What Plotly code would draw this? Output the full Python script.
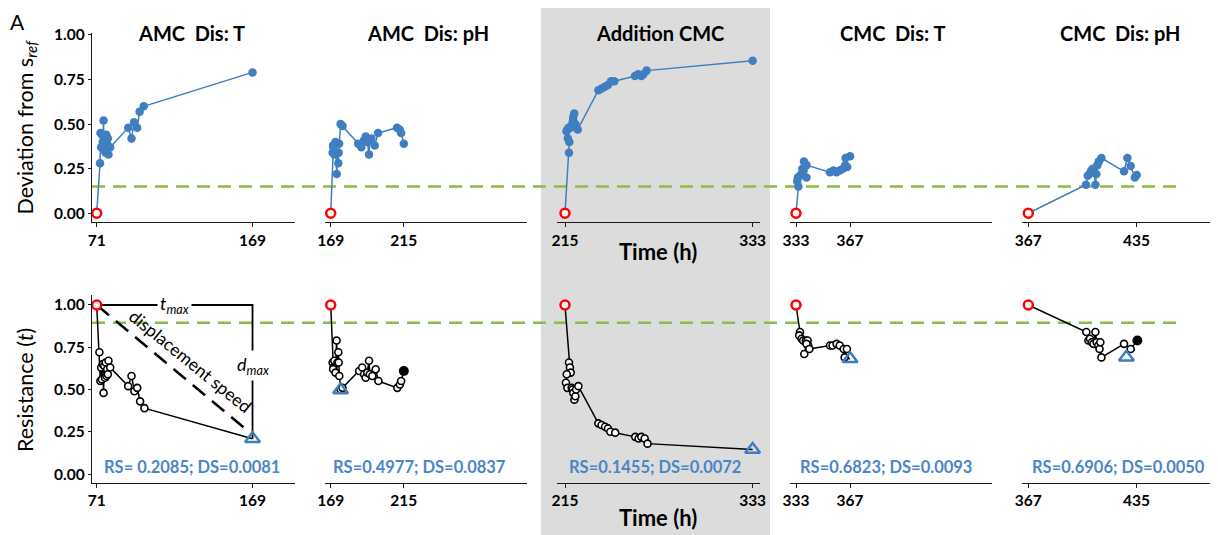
import plotly.graph_objects as go

W, H = 1218, 535

# ---------------- data ----------------
panel_titles = ["AMC&nbsp; Dis: T", "AMC&nbsp; Dis: pH", "Addition CMC", "CMC&nbsp; Dis: T", "CMC&nbsp; Dis: pH"]
x_ticks = [[71, 169], [169, 215], [215, 333], [333, 367], [367, 435]]

# Deviation from s_ref (top row)
dev_t1 = [71, 73.1, 73.4, 73.8, 74.3, 74.8, 75.3, 75.6, 76.0, 76.5, 77.0, 77.5, 78.0, 78.4, 79.5, 90.8, 92.9, 94.5, 96.5, 98.0, 100.6, 169]
dev_v1 = [0, 0.28, 0.45, 0.37, 0.44, 0.40, 0.52, 0.36, 0.43, 0.34, 0.44, 0.39, 0.42, 0.33, 0.37, 0.48, 0.42, 0.51, 0.48, 0.57, 0.60, 0.79]
dev_t2 = [169, 170.2, 170.7, 171.3, 170.5, 172.0, 172.8, 173.2, 173.8, 174.0, 174.3, 175.2, 176.4, 186.3, 188.3, 190.0, 191.0, 192.0, 193.1, 193.6, 194.6, 196.7, 198.8, 210.7, 212.3, 213.3, 215]
dev_v2 = [0, 0.34, 0.37, 0.33, 0.38, 0.40, 0.22, 0.34, 0.28, 0.34, 0.39, 0.50, 0.49, 0.39, 0.37, 0.41, 0.43, 0.40, 0.33, 0.41, 0.42, 0.38, 0.45, 0.48, 0.47, 0.45, 0.39]
dev_t3 = [215, 217.5, 217.7, 216.8, 216.0, 216.5, 217.2, 218.6, 219.5, 220.2, 220.8, 220.0, 221.5, 223.0, 236.0, 238.0, 240.0, 242.0, 244.0, 246.0, 259.0, 261.0, 263.0, 264.3, 266.3, 333]
dev_v3 = [0, 0.34, 0.40, 0.42, 0.46, 0.47, 0.48, 0.48, 0.50, 0.54, 0.56, 0.52, 0.50, 0.47, 0.69, 0.70, 0.71, 0.72, 0.74, 0.74, 0.77, 0.78, 0.77, 0.78, 0.80, 0.855]
dev_t4 = [333, 334.5, 333.8, 334.2, 335.5, 336.5, 337.0, 337.8, 339.6, 338.0, 339.6, 354.4, 356.5, 358.5, 360.5, 362.5, 364.0, 365.2, 364.2, 367]
dev_v4 = [0, 0.15, 0.18, 0.20, 0.21, 0.22, 0.25, 0.24, 0.20, 0.29, 0.27, 0.23, 0.24, 0.23, 0.24, 0.25, 0.27, 0.26, 0.31, 0.32]
dev_t5 = [367, 403.3, 404.4, 405.5, 406.5, 407.5, 408.5, 409.2, 409.8, 410.5, 411.3, 413.0, 427.2, 429.3, 431.4, 434.0, 435.2]
dev_v5 = [0, 0.16, 0.21, 0.22, 0.24, 0.25, 0.23, 0.16, 0.22, 0.27, 0.29, 0.31, 0.235, 0.31, 0.265, 0.20, 0.215]

# Resistance t (bottom row)
res_t1 = [71, 72.7, 73.3, 73.8, 74.3, 74.8, 75.3, 75.7, 76.2, 76.7, 77.2, 77.6, 78.0, 78.4, 79.5, 90.8, 92.9, 94.7, 96.5, 98.3, 101.0, 169]
res_v1 = [1.0, 0.72, 0.55, 0.63, 0.56, 0.65, 0.48, 0.64, 0.57, 0.66, 0.58, 0.62, 0.59, 0.67, 0.63, 0.52, 0.58, 0.49, 0.51, 0.43, 0.39, 0.2085]
res_t2 = [169, 170.2, 170.7, 171.3, 170.5, 172.0, 172.7, 173.2, 173.8, 174.0, 174.4, 175.2, 176.4, 186.9, 188.8, 190.0, 191.0, 192.0, 193.1, 193.6, 195.2, 197.3, 199.0, 210.9, 212.5, 213.3, 215]
res_v2 = [1.0, 0.66, 0.63, 0.67, 0.62, 0.60, 0.79, 0.66, 0.72, 0.66, 0.58, 0.50, 0.51, 0.61, 0.63, 0.59, 0.57, 0.60, 0.67, 0.59, 0.58, 0.62, 0.55, 0.51, 0.53, 0.55, 0.61]
res_t3 = [215, 217.5, 218.1, 218.6, 216.1, 215.6, 216.5, 219.2, 219.8, 220.2, 220.9, 221.5, 222.0, 223.4, 236.0, 238.0, 240.2, 242.0, 243.5, 246.6, 259.2, 261.3, 263.0, 265.1, 266.9, 333]
res_v3 = [1.0, 0.66, 0.63, 0.60, 0.59, 0.54, 0.51, 0.51, 0.50, 0.48, 0.44, 0.46, 0.50, 0.52, 0.30, 0.29, 0.28, 0.27, 0.25, 0.245, 0.22, 0.21, 0.22, 0.21, 0.18, 0.1455]
res_t4 = [333, 335.5, 335.0, 336.5, 337.5, 339.2, 340.3, 340.7, 339.6, 338.2, 341.4, 354.4, 356.0, 358.5, 360.5, 363.0, 365.0, 363.6, 367]
res_v4 = [1.0, 0.84, 0.82, 0.80, 0.79, 0.79, 0.79, 0.76, 0.77, 0.71, 0.74, 0.76, 0.76, 0.77, 0.76, 0.74, 0.74, 0.69, 0.6823]
res_t5 = [367, 403.5, 404.8, 405.8, 407.0, 408.0, 409.2, 410.0, 411.0, 411.8, 412.3, 413.0, 427.2, 431.4, 435.6]
res_v5 = [1.0, 0.84, 0.79, 0.80, 0.78, 0.77, 0.84, 0.78, 0.76, 0.74, 0.78, 0.69, 0.77, 0.74, 0.79]

rs_values = [0.2085, 0.4977, 0.1455, 0.6823, 0.6906]
ds_values = [0.0081, 0.0837, 0.0072, 0.0093, 0.0050]
rs_time = [169, 175.2, 333, 367, 428.7]
rs_labels = ["RS= 0.2085; DS=0.0081", "RS=0.4977; DS=0.0837", "RS=0.1455; DS=0.0072",
             "RS=0.6823; DS=0.0093", "RS=0.6906; DS=0.0050"]
dev_threshold = 0.15
res_threshold = 0.895
disp_end = (165.5, 0.26)

dev_t = [dev_t1, dev_t2, dev_t3, dev_t4, dev_t5]
dev_v = [dev_v1, dev_v2, dev_v3, dev_v4, dev_v5]
res_t = [res_t1, res_t2, res_t3, res_t4, res_t5]
res_v = [res_v1, res_v2, res_v3, res_v4, res_v5]

# ---------------- layout helpers ----------------
FONT = "Lato"
BLUE = "#3F7EC1"
TXT_BLUE = "#4A86C6"
GREEN = "#8DBB4A"
AX = "#1a1a1a"
k = 1.59  # px per hour
OFF = 8   # page offset of the figure inside the browser window

panel_px = [(92, 295), (325, 527), (557, 760), (790, 992), (1022, 1224)]
panel_center = [191, 428, 660, 893, 1120]
first_tick_px = [96.7, 330.7, 565, 796, 1028.3]
top_px = (33, 222)
bot_px = (295, 482.7)
top_range = [-0.049, 1.011]
bot_range = [-0.051, 1.059]


def px_x(p):
    return min(1.0, max(0.0, (p - OFF) / W))


def px_y(p):
    return min(1.0, max(0.0, 1 - (p - OFF) / H))


fig = go.Figure()
layout = dict(template="none", width=W, height=H, margin=dict(l=0, r=0, t=0, b=0),
              paper_bgcolor="white", plot_bgcolor="rgba(0,0,0,0)",
              showlegend=False, font=dict(family=FONT, color="black"))

shapes = []
annotations = []

# gray highlight of the "Addition CMC" column
shapes.append(dict(type="rect", xref="paper", yref="paper", x0=px_x(541), x1=px_x(770),
                   y0=0, y1=px_y(6), fillcolor="#DCDCDC", line=dict(width=0), layer="below"))


def val_to_paper(v, rng, dom_px):
    d0, d1 = px_y(dom_px[1]), px_y(dom_px[0])
    return d0 + (v - rng[0]) / (rng[1] - rng[0]) * (d1 - d0)


for v, rng, dom in [(dev_threshold, top_range, top_px), (res_threshold, bot_range, bot_px)]:
    yp = val_to_paper(v, rng, dom)
    shapes.append(dict(type="line", xref="paper", yref="paper", x0=px_x(92), x1=px_x(1183),
                       y0=yp, y1=yp, line=dict(color=GREEN, width=2.5, dash="13px,8px"), layer="below"))

for i in range(5):
    x0p, x1p = panel_px[i]
    dx0, dx1 = px_x(x0p), px_x(x1p)
    t0 = x_ticks[i][0] - (first_tick_px[i] - x0p) / k
    t1 = x_ticks[i][0] + (OFF + dx1 * W - first_tick_px[i]) / k
    for row in range(2):
        n = i + 1 + 5 * row
        xa = "xaxis" if n == 1 else f"xaxis{n}"
        ya = "yaxis" if n == 1 else f"yaxis{n}"
        xr = "x" if n == 1 else f"x{n}"
        yr = "y" if n == 1 else f"y{n}"
        dom_px = top_px if row == 0 else bot_px
        rng = top_range if row == 0 else bot_range
        layout[xa] = dict(domain=[dx0, dx1], range=[t0, t1], anchor=yr, automargin=False,
                          showline=True, linecolor=AX, linewidth=1.3, showgrid=False, zeroline=False,
                          ticks="outside", ticklen=4, tickwidth=1.3, tickcolor=AX,
                          tickvals=x_ticks[i], ticktext=[str(v) for v in x_ticks[i]],
                          tickfont=dict(family=FONT, size=15.5, color="black", weight="bold"))
        if i == 0:
            layout[ya] = dict(domain=[px_y(dom_px[1]), px_y(dom_px[0])], range=rng, anchor=xr,
                              automargin=False,
                              showline=True, linecolor=AX, linewidth=1.3, showgrid=False, zeroline=False,
                              ticks="outside", ticklen=3, tickwidth=1.3, tickcolor=AX,
                              tickvals=[0, 0.25, 0.5, 0.75, 1.0],
                              ticktext=["0.00", "0.25", "0.50", "0.75", "1.00"],
                              tickfont=dict(family=FONT, size=15.5, color="black", weight="bold"))
        else:
            layout[ya] = dict(domain=[px_y(dom_px[1]), px_y(dom_px[0])], range=rng, anchor=xr,
                              visible=False)

        if row == 0:
            tt, vv = dev_t[i], dev_v[i]
            fig.add_trace(go.Scatter(x=tt, y=vv, xaxis=xr, yaxis=yr, mode="lines",
                                     line=dict(color=BLUE, width=1.5), cliponaxis=False))
            fig.add_trace(go.Scatter(x=tt[1:], y=vv[1:], xaxis=xr, yaxis=yr, mode="markers",
                                     marker=dict(color=BLUE, size=8.5, line=dict(width=0)), cliponaxis=False))
            fig.add_trace(go.Scatter(x=tt[:1], y=vv[:1], xaxis=xr, yaxis=yr, mode="markers",
                                     marker=dict(color="white", size=9, line=dict(color="#FF0000", width=2.5)),
                                     cliponaxis=False))
        else:
            tt, vv = res_t[i], res_v[i]
            if i == 0:
                # t_max / d_max guides and displacement-speed line
                fig.add_trace(go.Scatter(x=[tt[0], rs_time[0], rs_time[0]], y=[vv[0], vv[0], rs_values[0]],
                                         xaxis=xr, yaxis=yr, mode="lines",
                                         line=dict(color="black", width=1.8), cliponaxis=False))
                fig.add_trace(go.Scatter(x=[tt[0], disp_end[0]], y=[vv[0], disp_end[1]],
                                         xaxis=xr, yaxis=yr, mode="lines",
                                         line=dict(color="black", width=2.5, dash="16px,9px"), cliponaxis=False))
                annotations.append(dict(xref=xr, yref=yr, x=(tt[0] + rs_time[0]) / 2, y=vv[0],
                                        text="<i>t</i><sub><i>max</i></sub>", showarrow=False,
                                        bgcolor="white", font=dict(family=FONT, size=18, color="black"),
                                        borderpad=2))
                annotations.append(dict(xref=xr, yref=yr, x=rs_time[0], y=(vv[0] + rs_values[0]) / 2 + 0.04,
                                        text="<i>d</i><sub><i>max</i></sub>", showarrow=False,
                                        bgcolor="white", font=dict(family=FONT, size=18, color="black"),
                                        borderpad=2))
                fr = 0.6
                annotations.append(dict(xref=xr, yref=yr,
                                        x=tt[0] + fr * (disp_end[0] - tt[0]),
                                        y=vv[0] + fr * (disp_end[1] - vv[0]),
                                        yshift=19, xshift=4, text="displacement speed", textangle=39,
                                        showarrow=False, font=dict(family=FONT, size=17.5, color="black")))
            fig.add_trace(go.Scatter(x=tt, y=vv, xaxis=xr, yaxis=yr, mode="lines",
                                     line=dict(color="black", width=1.5), cliponaxis=False))
            fig.add_trace(go.Scatter(x=tt[1:-1], y=vv[1:-1], xaxis=xr, yaxis=yr, mode="markers",
                                     marker=dict(color="white", size=7, line=dict(color="black", width=1.6)),
                                     cliponaxis=False))
            if tt[-1] != rs_time[i]:
                fig.add_trace(go.Scatter(x=tt[-1:], y=vv[-1:], xaxis=xr, yaxis=yr, mode="markers",
                                         marker=dict(color="black", size=10, line=dict(width=0)),
                                         cliponaxis=False))
            fig.add_trace(go.Scatter(x=[rs_time[i]], y=[rs_values[i]], xaxis=xr, yaxis=yr, mode="markers",
                                     marker=dict(symbol="triangle-up-open", color=BLUE, size=13,
                                                 line=dict(color=BLUE, width=2.5)), cliponaxis=False))
            fig.add_trace(go.Scatter(x=tt[:1], y=vv[:1], xaxis=xr, yaxis=yr, mode="markers",
                                     marker=dict(color="white", size=9, line=dict(color="#FF0000", width=2.5)),
                                     cliponaxis=False))

    # panel titles and RS/DS labels
    annotations.append(dict(xref="paper", yref="paper", x=px_x(panel_center[i]), y=px_y(33),
                            text=panel_titles[i], showarrow=False, xanchor="center", yanchor="middle",
                            font=dict(family=FONT, size=20, color="black", weight="bold")))
    annotations.append(dict(xref="paper", yref="paper", x=px_x([192, 420, 655, 886, 1118][i]), y=px_y(467),
                            text=rs_labels[i], showarrow=False, xanchor="center", yanchor="middle",
                            font=dict(family=FONT, size=16.5, color=TXT_BLUE, weight="bold")))

# axis titles
annotations.append(dict(xref="paper", yref="paper", x=px_x(658), y=px_y(252), text="Time (h)",
                        showarrow=False, xanchor="center", yanchor="middle",
                        font=dict(family=FONT, size=22, color="black", weight="bold")))
annotations.append(dict(xref="paper", yref="paper", x=px_x(658), y=px_y(517), text="Time (h)",
                        showarrow=False, xanchor="center", yanchor="middle",
                        font=dict(family=FONT, size=22, color="black", weight="bold")))
annotations.append(dict(xref="paper", yref="paper", x=px_x(9), y=px_y(127),
                        text="Deviation from s<sub><i>ref</i></sub>", textangle=-90,
                        showarrow=False, xanchor="left", yanchor="middle",
                        font=dict(family=FONT, size=21.5, color="black")))
annotations.append(dict(xref="paper", yref="paper", x=px_x(10), y=px_y(390),
                        text="Resistance (<i>t</i>)", textangle=-90,
                        showarrow=False, xanchor="left", yanchor="middle",
                        font=dict(family=FONT, size=21.5, color="black")))
annotations.append(dict(xref="paper", yref="paper", x=px_x(9), y=px_y(8), text="A",
                        showarrow=False, xanchor="left", yanchor="top", borderpad=0,
                        font=dict(family=FONT, size=21, color="black")))

layout["shapes"] = shapes
layout["annotations"] = annotations
fig.update_layout(**layout)
fig.write_html("out.html")
